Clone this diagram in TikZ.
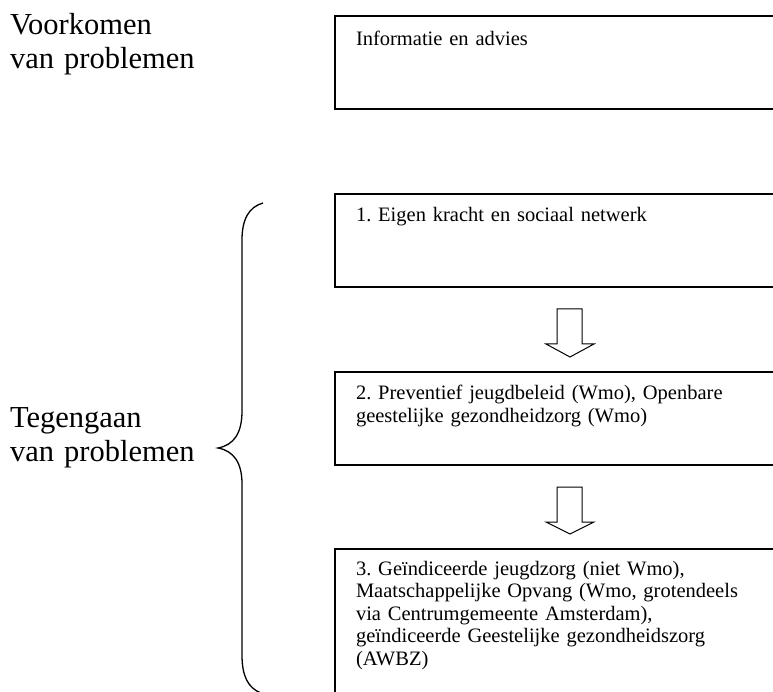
\documentclass[tikz,border=0pt]{standalone}
\usepackage{fontspec}
\setmainfont{Liberation Serif}
\usetikzlibrary{positioning}
\frenchspacing

\begin{document}
\begin{tikzpicture}[x=1pt, y=1pt]
\tikzset{ inner sep=0pt, outer sep=0pt,
  box/.style={draw, line width=1.5pt, anchor=north west, minimum width=470, minimum height=93},
  boxtext/.style={anchor=base west, text width=420, align=left, font=\fontsize{20.5}{22.5}\selectfont},
  sidetext/.style={anchor=base west, text width=250, align=left, font=\fontsize{30.5}{33.5}\selectfont},
  hollow/.style={draw, line width=1pt, fill=white, line join=miter},
}

\useasboundingbox (0,0) rectangle (773,691);
\clip (0,0) rectangle (773,691);

%\draw [lightgray, dashed](0,0) grid[step=50] (773,691);

\node [box] (info)  at (335,675) {};
\node [box] (eigen) at (335,497) {};
\node [box] (prev)  at (335,319) {};
\node [box, minimum height=170] (indic) at (335,142) {};

\node [boxtext] (infotxt)  at ([xshift=21, yshift=-30]info.north west) {Informatie en advies};
\node [boxtext] (eigentxt) at ([xshift=21, yshift=-28]eigen.north west) {1. Eigen kracht en sociaal netwerk};
\node [boxtext] (prevtxt)  at ([xshift=21, yshift=-28]prev.north west)
  {2. Preventief jeugdbeleid (Wmo), Openbare\\ geestelijke gezondheidzorg (Wmo)};
\node [boxtext] (indictxt) at ([xshift=21, yshift=-26]indic.north west)
  {3. Geïndiceerde jeugdzorg (niet Wmo),\\ Maatschappelijke Opvang (Wmo, grotendeels\\ via Centrumgemeente Amsterdam),\\ geïndiceerde Geestelijke gezondheidszorg\\ (AWBZ)};

\node [sidetext] (voorkomen) at (10,656) {Voorkomen\\ van problemen};
\node [sidetext] (tegengaan) at (10,263) {Tegengaan\\ van problemen};

% block arrows between the boxes
\draw [hollow] (557,382) -- (582,382) -- (582,347) -- (594,347) -- (570,334)
               -- (546,347) -- (557,347) -- cycle;
\draw [hollow] (557,204) -- (582,204) -- (582,169) -- (594,169) -- (570,157)
               -- (546,169) -- (557,169) -- cycle;

% brace
\draw [line width=1.3pt] (263,488) .. controls (249,484) and (242,472) .. (242,451)
      -- (242,280) .. controls (242,258) and (234,246) .. (218,243)
      .. controls (234,240) and (242,228) .. (242,207)
      -- (242,36) .. controls (242,15) and (248,3) .. (261,-2);

\end{tikzpicture}
\end{document}
